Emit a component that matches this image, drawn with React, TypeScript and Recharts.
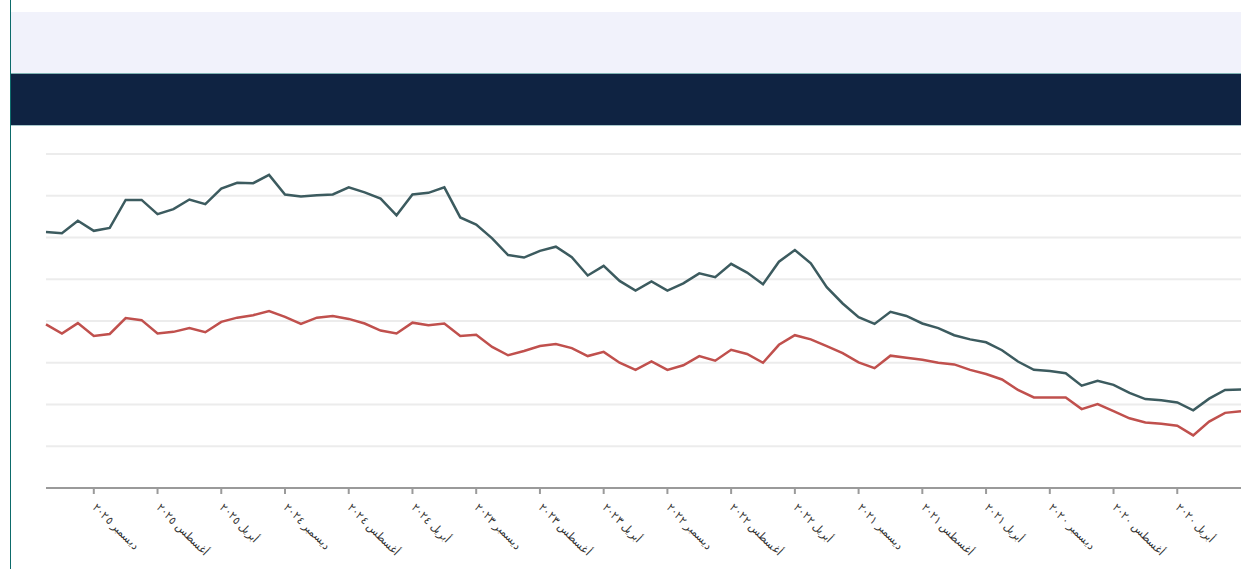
import React from 'react';
import { LineChart, Line, XAxis, YAxis, CartesianGrid } from 'recharts';

// Periods, left to right (newest to oldest)
const periods = [
  'مارس ٢٠٢٦', 'فبراير ٢٠٢٦', 'يناير ٢٠٢٦',
  'ديسمبر ٢٠٢٥', 'نوفمبر ٢٠٢٥', 'أكتوبر ٢٠٢٥', 'سبتمبر ٢٠٢٥', 'أغسطس ٢٠٢٥', 'يوليو ٢٠٢٥', 'يونيو ٢٠٢٥', 'مايو ٢٠٢٥', 'أبريل ٢٠٢٥', 'مارس ٢٠٢٥', 'فبراير ٢٠٢٥', 'يناير ٢٠٢٥',
  'ديسمبر ٢٠٢٤', 'نوفمبر ٢٠٢٤', 'أكتوبر ٢٠٢٤', 'سبتمبر ٢٠٢٤', 'أغسطس ٢٠٢٤', 'يوليو ٢٠٢٤', 'يونيو ٢٠٢٤', 'مايو ٢٠٢٤', 'أبريل ٢٠٢٤', 'مارس ٢٠٢٤', 'فبراير ٢٠٢٤', 'يناير ٢٠٢٤',
  'ديسمبر ٢٠٢٣', 'نوفمبر ٢٠٢٣', 'أكتوبر ٢٠٢٣', 'سبتمبر ٢٠٢٣', 'أغسطس ٢٠٢٣', 'يوليو ٢٠٢٣', 'يونيو ٢٠٢٣', 'مايو ٢٠٢٣', 'أبريل ٢٠٢٣', 'مارس ٢٠٢٣', 'فبراير ٢٠٢٣', 'يناير ٢٠٢٣',
  'ديسمبر ٢٠٢٢', 'نوفمبر ٢٠٢٢', 'أكتوبر ٢٠٢٢', 'سبتمبر ٢٠٢٢', 'أغسطس ٢٠٢٢', 'يوليو ٢٠٢٢', 'يونيو ٢٠٢٢', 'مايو ٢٠٢٢', 'أبريل ٢٠٢٢', 'مارس ٢٠٢٢', 'فبراير ٢٠٢٢', 'يناير ٢٠٢٢',
  'ديسمبر ٢٠٢١', 'نوفمبر ٢٠٢١', 'أكتوبر ٢٠٢١', 'سبتمبر ٢٠٢١', 'أغسطس ٢٠٢١', 'يوليو ٢٠٢١', 'يونيو ٢٠٢١', 'مايو ٢٠٢١', 'أبريل ٢٠٢١', 'مارس ٢٠٢١', 'فبراير ٢٠٢١', 'يناير ٢٠٢١',
  'ديسمبر ٢٠٢٠', 'نوفمبر ٢٠٢٠', 'أكتوبر ٢٠٢٠', 'سبتمبر ٢٠٢٠', 'أغسطس ٢٠٢٠', 'يوليو ٢٠٢٠', 'يونيو ٢٠٢٠', 'مايو ٢٠٢٠', 'أبريل ٢٠٢٠', 'مارس ٢٠٢٠', 'فبراير ٢٠٢٠', 'يناير ٢٠٢٠',
  'ديسمبر ٢٠١٩',
];

const tickLabels = [
  'ديسمبر ٢٠٢٥', 'أغسطس ٢٠٢٥', 'أبريل ٢٠٢٥',
  'ديسمبر ٢٠٢٤', 'أغسطس ٢٠٢٤', 'أبريل ٢٠٢٤',
  'ديسمبر ٢٠٢٣', 'أغسطس ٢٠٢٣', 'أبريل ٢٠٢٣',
  'ديسمبر ٢٠٢٢', 'أغسطس ٢٠٢٢', 'أبريل ٢٠٢٢',
  'ديسمبر ٢٠٢١', 'أغسطس ٢٠٢١', 'أبريل ٢٠٢١',
  'ديسمبر ٢٠٢٠', 'أغسطس ٢٠٢٠', 'أبريل ٢٠٢٠',
];

const seriesDark = [
  61.3, 61.0, 64.0, 61.6, 62.3, 69.0, 69.0, 65.6, 66.8, 69.1,
  68.0, 71.7, 73.1, 73.0, 75.0, 70.3, 69.8, 70.1, 70.3, 72.0,
  70.8, 69.3, 65.3, 70.3, 70.7, 72.0, 64.8, 63.1, 59.8, 55.8,
  55.2, 56.8, 57.8, 55.3, 50.9, 53.2, 49.6, 47.3, 49.5, 47.3,
  49.0, 51.4, 50.5, 53.7, 51.6, 48.8, 54.2, 57.0, 53.8, 48.1,
  44.2, 40.9, 39.3, 42.2, 41.2, 39.4, 38.3, 36.6, 35.6, 34.9,
  33.0, 30.3, 28.3, 28.0, 27.5, 24.5, 25.7, 24.7, 22.8, 21.3,
  21.0, 20.5, 18.6, 21.4, 23.5, 23.6,
];

const seriesRed = [
  39.2, 37.0, 39.5, 36.4, 36.9, 40.7, 40.2, 37.0, 37.4, 38.3,
  37.3, 39.8, 40.8, 41.4, 42.4, 41.0, 39.3, 40.8, 41.2, 40.5,
  39.4, 37.7, 37.0, 39.6, 39.0, 39.4, 36.4, 36.7, 33.8, 31.8,
  32.8, 34.0, 34.5, 33.5, 31.6, 32.6, 30.0, 28.3, 30.3, 28.3,
  29.4, 31.6, 30.5, 33.1, 32.1, 30.0, 34.3, 36.6, 35.6, 34.0,
  32.3, 30.1, 28.7, 31.7, 31.2, 30.7, 30.0, 29.6, 28.3, 27.3,
  26.0, 23.5, 21.7, 21.7, 21.7, 18.9, 20.1, 18.4, 16.7, 15.7,
  15.4, 14.9, 12.6, 15.9, 18.0, 18.4,
];

const yTicks = [0, 10, 20, 30, 40, 50, 60, 70, 80];

const data = periods.map((p, i) => ({ period: p, dark: seriesDark[i], red: seriesRed[i] }));

const AngledTick = (props: any) => {
  const { x, y, payload } = props;
  return (
    <g transform={`translate(${x + 1},${y + 9}) rotate(45)`}>
      <text x={0} y={0} dy={4} textAnchor="start" fontSize={11} fill="#333">
        {payload.value}
      </text>
    </g>
  );
};

export default function App() {
  return (
    <div style={{ position: 'absolute', left: 0, top: 0, width: 1241, height: 569, overflow: 'hidden', background: '#fff' }}>
      <div style={{ position: 'absolute', left: 10, top: 0, width: 1, height: 569, background: '#0d6b6b' }} />
      <div style={{ position: 'absolute', left: 11, top: 12, width: 1230, height: 61, background: '#f1f2fb' }} />
      <div style={{ position: 'absolute', left: 11, top: 73, width: 1230, height: 1, background: '#7fb3b3' }} />
      <div style={{ position: 'absolute', left: 11, top: 74, width: 1230, height: 51, background: '#0f2342' }} />
      <div style={{ position: 'absolute', left: 11, top: 125, width: 1230, height: 1, background: '#a8c8cc' }} />
      <div style={{ position: 'absolute', left: 11, top: 130 }}>
        <LineChart width={1230} height={439} data={data} margin={{ top: 24, right: 0, bottom: 11, left: 35 }}>
          <CartesianGrid horizontal vertical={false} stroke="#ececec" strokeWidth={2} />
          <YAxis hide domain={[0, 80]} ticks={yTicks} />
          <XAxis
            dataKey="period"
            ticks={tickLabels}
            interval={0}
            height={70}
            stroke="#9a9a9a"
            strokeWidth={2}
            tickSize={6}
            tick={<AngledTick />}
          />
          <Line type="linear" dataKey="dark" stroke="#3c5b5f" strokeWidth={2.5} dot={false} isAnimationActive={false} />
          <Line type="linear" dataKey="red" stroke="#c0504d" strokeWidth={2.5} dot={false} isAnimationActive={false} />
        </LineChart>
      </div>
    </div>
  );
}
